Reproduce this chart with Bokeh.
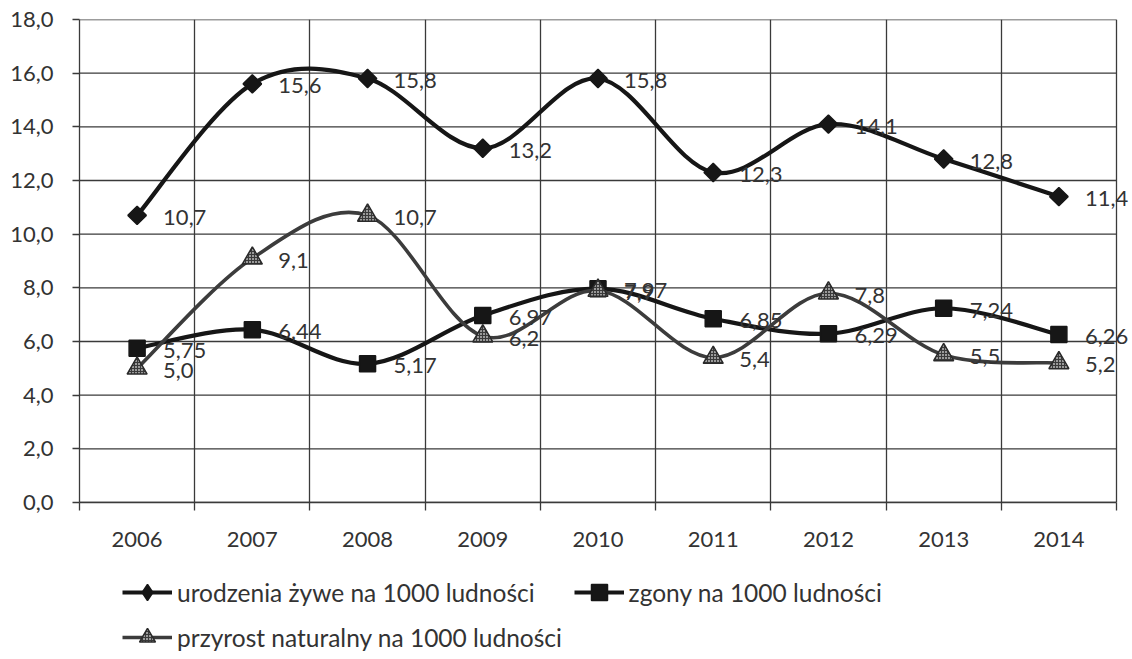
from bokeh.plotting import figure
from bokeh.layouts import column
from bokeh.models import ColumnDataSource, Range1d, FixedTicker, LabelSet, Legend, LegendItem
from bokeh.core.properties import value
from bokeh.embed import file_html
from bokeh.resources import INLINE

years = ["2006", "2007", "2008", "2009", "2010", "2011", "2012", "2013", "2014"]
urodzenia = [10.7, 15.6, 15.8, 13.2, 15.8, 12.3, 14.1, 12.8, 11.4]
zgony = [5.75, 6.44, 5.17, 6.97, 7.97, 6.85, 6.29, 7.24, 6.26]
przyrost = [5.0, 9.1, 10.7, 6.2, 7.9, 5.4, 7.8, 5.5, 5.2]
names = ["urodzenia żywe na 1000 ludności", "zgony na 1000 ludności",
         "przyrost naturalny na 1000 ludności"]
y_ticks = [0, 2, 4, 6, 8, 10, 12, 14, 16, 18]

FONT = "Lato"
TXT = "#333333"
GRID = "#3a3a3a"

n = len(years)
xpos = [i + 0.5 for i in range(n)]
# frame runs a little past the last category border so right-hand labels fit
X_END = n * (1132 - 79) / (1116 - 79)


def fmt(v, d):
    return f"{v:.{d}f}".replace(".", ",")


def smooth(xs, ys):
    m = len(xs)
    d = dict(x0=[], y0=[], x1=[], y1=[], cx0=[], cy0=[], cx1=[], cy1=[])
    for i in range(m - 1):
        a = i - 1 if i > 0 else i
        b = i + 2 if i + 2 < m else i + 1
        d["x0"].append(xs[i]); d["y0"].append(ys[i])
        d["x1"].append(xs[i + 1]); d["y1"].append(ys[i + 1])
        d["cx0"].append(xs[i] + (xs[i + 1] - xs[a]) / 6)
        d["cy0"].append(ys[i] + (ys[i + 1] - ys[a]) / 6)
        d["cx1"].append(xs[i + 1] - (xs[b] - xs[i]) / 6)
        d["cy1"].append(ys[i + 1] - (ys[b] - ys[i]) / 6)
    return ColumnDataSource(d)


p = figure(width=1132, height=565, output_backend="svg", toolbar_location=None,
           x_range=Range1d(0, X_END), y_range=Range1d(0, 18),
           min_border_left=79, min_border_right=0, min_border_top=19,
           min_border_bottom=63)
p.background_fill_color = "white"
p.border_fill_color = "white"
p.outline_line_color = None

# axes
p.xaxis.ticker = FixedTicker(ticks=xpos, minor_ticks=list(range(n + 1)))
p.xaxis.bounds = (0, n)
p.xaxis.major_label_overrides = {x: y for x, y in zip(xpos, years)}
p.xaxis.major_tick_line_color = None
p.xaxis.major_tick_out = 0
p.xaxis.major_tick_in = 0
p.xaxis.minor_tick_line_color = GRID
p.xaxis.minor_tick_line_width = 1.3
p.xaxis.minor_tick_out = 8
p.xaxis.minor_tick_in = 0
p.xaxis.axis_line_color = GRID
p.xaxis.axis_line_width = 1.3
p.xaxis.major_label_standoff = 21

p.yaxis.ticker = FixedTicker(ticks=y_ticks)
p.yaxis.major_label_overrides = {t: fmt(t, 1) for t in y_ticks}
p.yaxis.minor_tick_line_color = None
p.yaxis.major_tick_line_color = GRID
p.yaxis.major_tick_line_width = 1.3
p.yaxis.major_tick_out = 7
p.yaxis.major_tick_in = 0
p.yaxis.axis_line_color = GRID
p.yaxis.axis_line_width = 1.3
p.yaxis.major_label_standoff = 19

for ax in (p.xaxis, p.yaxis):
    ax.major_label_text_font = FONT
    ax.major_label_text_font_size = "22px"
    ax.major_label_text_color = TXT

p.xgrid.grid_line_color = None
p.xgrid.minor_grid_line_color = GRID
p.xgrid.minor_grid_line_width = 1.3
p.ygrid.grid_line_color = None
# horizontal gridlines limited to the category area
p.segment(x0=[0] * len(y_ticks), x1=[n] * len(y_ticks), y0=y_ticks, y1=y_ticks,
          line_color=GRID, line_width=1.3)

series = [
    dict(vals=urodzenia, dec=1, marker="square", angle=0.785398, size=13,
         lmarker="diamond", lsize=22, line="#161616",
         fill="#161616", mline="#161616", lw=4.2),
    dict(vals=zgony, dec=2, marker="square", angle=0.0, size=16,
         lmarker="square", lsize=16, line="#161616",
         fill="#161616", mline="#161616", lw=4.2),
    dict(vals=przyrost, dec=1, marker="triangle", angle=0.0, size=20,
         lmarker="triangle", lsize=20, line="#3c3c3c",
         fill="#9a9a9a", mline="#2a2a2a", lw=3.6),
]

# legend figure below the chart (its ranges keep the proxy glyphs off-screen)
lf = figure(width=1132, height=94, output_backend="svg", toolbar_location=None,
            x_range=Range1d(-2, -1), y_range=Range1d(-2, -1),
            x_axis_location=None, y_axis_location=None,
            min_border_left=0, min_border_right=0, min_border_top=0, min_border_bottom=0)
lf.outline_line_color = None
lf.grid.visible = False
lf.background_fill_color = "white"
lf.border_fill_color = "white"

items = []
for s, name in zip(series, names):
    bz = smooth(xpos, s["vals"])
    p.bezier(x0="x0", y0="y0", x1="x1", y1="y1", cx0="cx0", cy0="cy0",
             cx1="cx1", cy1="cy1", source=bz, line_color=s["line"], line_width=s["lw"])
    src = ColumnDataSource(dict(x=xpos, y=s["vals"],
                                lab=[fmt(v, s["dec"]) for v in s["vals"]]))
    kw = {}
    if s["marker"] == "triangle":
        kw = dict(hatch_pattern="+", hatch_scale=3, hatch_color="#3a3a3a", hatch_weight=1)
    p.scatter("x", "y", source=src, marker=s["marker"], size=s["size"], angle=s["angle"],
              fill_color=s["fill"], line_color=s["mline"], line_width=1.5, **kw)
    p.add_layout(LabelSet(x="x", y="y", text="lab", source=src, x_offset=26, y_offset=-2,
                          text_baseline="middle", text_align="left",
                          text_font=value(FONT), text_font_size="22px", text_color=TXT))
    # legend proxies in the legend figure
    ln = lf.line("x", "y", source=src, line_color=s["line"], line_width=s["lw"])
    sc = lf.scatter("x", "y", source=src, marker=s["lmarker"], size=s["lsize"],
                    fill_color=s["fill"], line_color=s["mline"], line_width=1.5, **kw)
    items.append(LegendItem(label=name, renderers=[ln, sc]))


def mk_legend(its, loc, spacing):
    return Legend(items=its, location=loc, orientation="horizontal", spacing=spacing,
                  padding=0, margin=0, border_line_color=None, background_fill_alpha=0,
                  glyph_width=50, glyph_height=40, label_height=40, label_standoff=5,
                  label_text_font=FONT, label_text_font_size="24.5px", label_text_color=TXT)


lf.add_layout(mk_legend(items[:2], (43, 47), 39), "center")
lf.add_layout(mk_legend(items[2:], (43, 2), 39), "center")

open("out.html", "w").write(file_html(column(p, lf, spacing=0), INLINE))
